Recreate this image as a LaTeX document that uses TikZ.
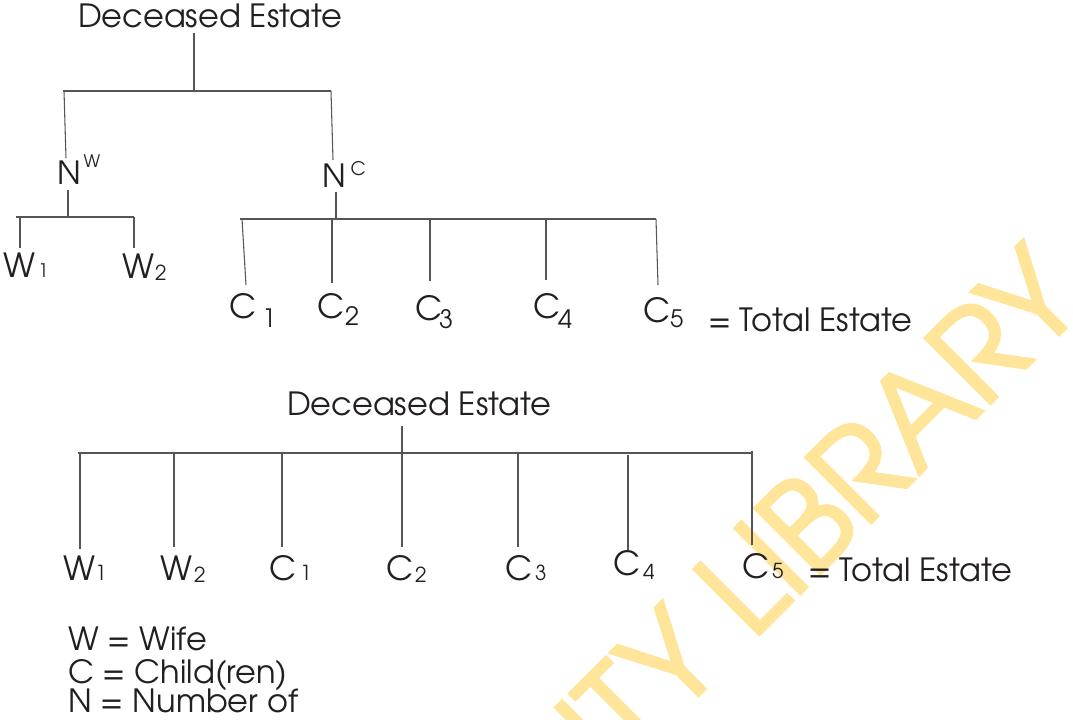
\documentclass[tikz,border=0pt]{standalone}
\usepackage{fontspec}
\setmainfont{texgyreadventor-regular.otf}
\newfontfamily\wmfont{texgyreadventor-regular.otf}[FakeBold=2.5]
\newlength{\pxl}
\setlength{\pxl}{0.75pt}
\definecolor{inkc}{RGB}{35,31,32}
\definecolor{linec}{RGB}{85,85,85}
\definecolor{wmark}{RGB}{254,229,153}
% #1 main letter, #2 box width (px), #3 lowering of subscript (px), #4 subscript, #5 subscript size (pt)
\newcommand{\lbl}[5]{{\fontsize{25pt}{28pt}\selectfont\makebox[#2\pxl][l]{#1}}\raisebox{-#3\pxl}{\fontsize{#5pt}{#5pt}\selectfont #4}}
\begin{document}
\begin{tikzpicture}[x=0.75pt,y=-0.75pt,
  txt/.style={inner sep=0pt,outer sep=0pt,text=inkc,font=\fontsize{24pt}{28pt}\selectfont,anchor=base west},
  conn/.style={draw=linec,line width=0.8pt}]
\useasboundingbox (0,0) rectangle (1073,720);
% watermark
\begin{scope}
\clip (0,0) rectangle (1073,720);
\node[inner sep=0pt,text=wmark,font=\wmfont\fontsize{94pt}{98pt}\selectfont,anchor=base east,rotate=45] (wm) at (1089,305) {UNIVERSITY LIBRARY};
\end{scope}
% ---------- top tree ----------
\node[txt] (de1) at (78,28) {Deceased Estate};
\node[txt] (nw) at (57,185) {N\kern3\pxl\raisebox{17\pxl}{\fontsize{13pt}{14pt}\selectfont W}};
\node[txt] (nc) at (322,188) {N\kern5\pxl\raisebox{12.5\pxl}{\fontsize{14pt}{15pt}\selectfont C}};
\node[txt] (tw1) at (3,277) {\lbl{W}{35}{0}{1}{14}};
\node[txt] (tw2) at (122,278) {\lbl{W}{33}{2}{2}{15.5}};
\node[txt] (tc1) at (229,318) {\lbl{C}{33}{9}{1}{19}};
\node[txt] (tc2) at (317,318) {\lbl{C}{28}{7}{2}{19}};
\node[txt] (tc3) at (415,320) {\lbl{C}{24}{8}{3}{19}};
\node[txt] (tc4) at (533,318) {\lbl{C}{25}{10}{4}{19}};
\node[txt] (tc5) at (643,322) {\lbl{C}{27}{5}{5}{18}};
\node[txt] (tot1) at (708,331) {= Total Estate};

\coordinate (a0) at (194,33);
\coordinate (a1) at (194,91);
\coordinate (hl) at (63,91);
\coordinate (hr) at (331,91);
\coordinate (nwt) at (66,158);
\coordinate (nct) at (333,160);
\coordinate (nwb) at (68,190);
\coordinate (nwj) at (68,217);
\coordinate (wl) at (16,217);
\coordinate (wr) at (134,217);
\coordinate (w1s) at (20,217);
\coordinate (w1e) at (20,248);
\coordinate (w2e) at (134,248);
\coordinate (ncb) at (336,192);
\coordinate (ncj) at (336,219);
\coordinate (cl) at (240,219);
\coordinate (cr) at (656,219);
\coordinate (c1s) at (242,219);
\coordinate (c1e) at (246,285);
\coordinate (c2s) at (332,219);
\coordinate (c2e) at (332,283);
\coordinate (c3s) at (430,219);
\coordinate (c3e) at (430,281);
\coordinate (c4s) at (546,218);
\coordinate (c4e) at (546,280);
\coordinate (c5e) at (658,285);

\draw[conn] (a0) -- (a1);
\draw[conn] (hl) -- (hr);
\draw[conn] (64,91) -- (nwt);
\draw[conn] (hr) -- (nct);
\draw[conn] (nwb) -- (nwj);
\draw[conn] (wl) -- (wr);
\draw[conn] (w1s) -- (w1e);
\draw[conn] (wr) -- (w2e);
\draw[conn] (ncb) -- (ncj);
\draw[conn] (cl) -- (cr);
\draw[conn] (c1s) -- (c1e);
\draw[conn] (c2s) -- (c2e);
\draw[conn] (c3s) -- (c3e);
\draw[conn] (c4s) -- (c4e);
\draw[conn] (cr) -- (c5e);

% ---------- bottom tree ----------
\node[txt] (de2) at (287,415) {Deceased Estate};
\node[txt] (bw1) at (63,580) {\lbl{W}{32}{0}{1}{15.5}};
\node[txt] (bw2) at (160,580) {\lbl{W}{34}{2}{2}{15.5}};
\node[txt] (bc1) at (269,580) {\lbl{C}{31}{0}{1}{15.5}};
\node[txt] (bc2) at (386,580) {\lbl{C}{29}{2}{2}{15.5}};
\node[txt] (bc3) at (505,580) {\lbl{C}{30}{0}{3}{15.5}};
\node[txt] (bc4) at (613,575) {\lbl{C}{30}{4}{4}{15.5}};
\node[txt] (bc5) at (742,578) {\lbl{C}{30}{0}{5}{15.5}};
\node[txt] (tot2) at (808,581) {= Total Estate};

\coordinate (b0) at (402,426);
\coordinate (bl) at (78,453);
\coordinate (br) at (753,453);
\coordinate (bw1s) at (80,453);
\coordinate (bw1e) at (80,549);
\coordinate (bw2s) at (174,453);
\coordinate (bw2e) at (174,547);
\coordinate (bc1s) at (282,453);
\coordinate (bc1e) at (282,547);
\coordinate (bc2e) at (402,547);
\coordinate (bc3s) at (518,453);
\coordinate (bc3e) at (518,547);
\coordinate (bc4s) at (628,455);
\coordinate (bc4e) at (628,550);
\coordinate (bc5s) at (752,451);
\coordinate (bc5e) at (752,545);

\draw[conn] (bl) -- (br);
\draw[conn] (b0) -- (bc2e);
\draw[conn] (bw1s) -- (bw1e);
\draw[conn] (bw2s) -- (bw2e);
\draw[conn] (bc1s) -- (bc1e);
\draw[conn] (bc3s) -- (bc3e);
\draw[conn] (bc4s) -- (bc4e);
\draw[conn] (bc5s) -- (bc5e);

% ---------- legend ----------
\node[txt] (lg1) at (68,650) {W = Wife};
\node[txt] (lg2) at (68,683) {C = Child(ren)};
\node[txt] (lg3) at (68,712) {N = Number of};
\end{tikzpicture}
\end{document}
